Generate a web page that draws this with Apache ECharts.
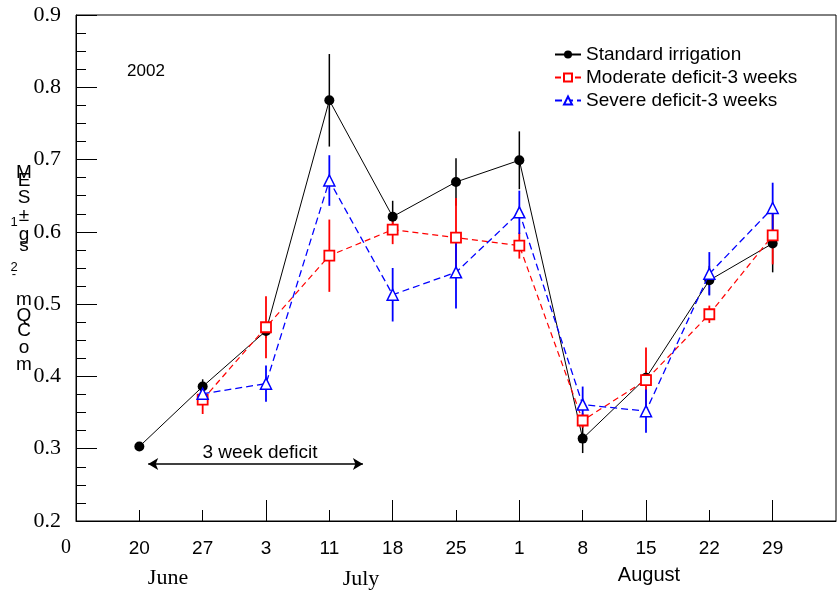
<!DOCTYPE html>
<html><head><meta charset="utf-8">
<script src="https://cdn.jsdelivr.net/npm/echarts@6/dist/echarts.min.js"></script>
<style>html,body{margin:0;padding:0;background:#fff}#c{width:840px;height:596px}</style>
</head><body><div id="c"></div>
<script>
const tickLabels = ['20','27','3','11','18','25','1','8','15','22','29'];
const xPos = [1,2,3,4,5,6,7,8,9,10,11];
const longTicks = [3,5,7,9,11];
const shortTicks = [1,2,4,6,8,10];
const standard    = [0.303,0.386,0.463,0.782,0.621,0.669,0.699,0.314,0.398,0.533,0.584];
const standardErr = [0.004,0.010,0.010,0.064,0.022,0.033,0.040,0.020,0.010,0.020,0.040];
const moderate    = [null,0.368,0.468,0.567,0.603,0.592,0.581,0.339,0.395,0.486,0.595];
const moderateErr = [null,0.020,0.043,0.050,0.020,0.055,0.018,0.010,0.045,0.012,0.040];
const severe      = [null,0.376,0.390,0.671,0.513,0.544,0.627,0.361,0.352,0.542,0.633];
const severeErr   = [null,0.010,0.025,0.035,0.037,0.050,0.030,0.025,0.030,0.030,0.035];
const yTitleChars = [['M',173],['E',181],['S',198],['±',216],['g',235],['s',246],['m',300],['Q',316],['C',331],['o',348],['m',365]];
const yTitleSups = [['1',222],['2',267],['-',274]];

const SANS = '"Liberation Sans"';
function pts(v){ const o=[]; v.forEach((y,i)=>{ if(y!==null) o.push([xPos[i],y]); }); return o; }
function errs(v,e){ const o=[]; v.forEach((y,i)=>{ if(y!==null) o.push([xPos[i],y-e[i],y+e[i]]); }); return o; }
function errSeries(v,e,color,w){
  return {type:'custom', silent:true, z:1, data:errs(v,e), encode:{x:0,y:[1,2]},
    renderItem:(p,api)=>{ const a=api.coord([api.value(0),api.value(1)]); const b=api.coord([api.value(0),api.value(2)]);
      return {type:'line', shape:{x1:a[0],y1:a[1],x2:b[0],y2:b[1]}, style:{stroke:color,lineWidth:w}}; }};
}
const chart = echarts.init(document.getElementById('c'));
const graphics = [];
yTitleChars.forEach(([ch,y])=>graphics.push({type:'text', x:24, y:y, style:{text:ch, font:'19px ' + SANS, fill:'#000', align:'center', verticalAlign:'middle'}}));
yTitleSups.forEach(([ch,y])=>graphics.push({type:'text', x:14, y:y, style:{text:ch, font:'13px ' + SANS, fill:'#000', align:'center', verticalAlign:'middle'}}));
graphics.push({type:'text', x:66, y:548, style:{text:'0', font:'20px "Liberation Serif"', fill:'#000', align:'center', verticalAlign:'middle'}});
graphics.push({type:'text', x:168, y:578, style:{text:'June', font:'22px "Liberation Serif"', fill:'#000', align:'center', verticalAlign:'middle'}});
graphics.push({type:'text', x:361, y:579, style:{text:'July', font:'22px "Liberation Serif"', fill:'#000', align:'center', verticalAlign:'middle'}});
graphics.push({type:'text', x:649, y:575, style:{text:'August', font:'20px ' + SANS, fill:'#000', align:'center', verticalAlign:'middle'}});
graphics.push({type:'text', x:146, y:71, style:{text:'2002', font:'17px ' + SANS, fill:'#000', align:'center', verticalAlign:'middle'}});
graphics.push({type:'text', x:260, y:453, style:{text:'3 week deficit', font:'19px ' + SANS, fill:'#000', align:'center', verticalAlign:'middle'}});

chart.setOption({
  animation:false,
  backgroundColor:'#fff',
  grid:{left:76, right:4, top:15, bottom:75, show:true, borderColor:'#000', borderWidth:1},
  legend:{orient:'vertical', left:549, top:40, itemWidth:26, itemHeight:10, itemGap:4,
    textStyle:{fontSize:19, fontFamily:'Liberation Sans', color:'#000'},
    data:['Standard irrigation','Moderate deficit-3 weeks','Severe deficit-3 weeks']},
  xAxis:[
    {type:'value', min:0, max:12, position:'bottom',
     axisLine:{show:true, lineStyle:{color:'#000'}}, splitLine:{show:false},
     axisTick:{show:true, inside:true, length:21, customValues:longTicks, lineStyle:{color:'#000'}},
     axisLabel:{show:true, customValues:xPos, margin:18, fontSize:19, fontFamily:'Liberation Sans', color:'#000',
       formatter:(v)=>{ const i=xPos.indexOf(Math.round(v)); return i>=0?tickLabels[i]:''; }}},
    {type:'value', min:0, max:12, position:'bottom', offset:0,
     axisLine:{show:false}, splitLine:{show:false},
     axisTick:{show:true, inside:true, length:11, customValues:shortTicks, lineStyle:{color:'#000'}},
     axisLabel:{show:false}}
  ],
  yAxis:{type:'value', min:0.2, max:0.9, interval:0.1,
    axisLine:{show:true, lineStyle:{color:'#000'}}, splitLine:{show:false},
    axisTick:{show:true, inside:true, length:21, lineStyle:{color:'#000'}},
    minorTick:{show:true, splitNumber:4, length:10, lineStyle:{color:'#000'}},
    axisLabel:{margin:15, fontSize:22, fontFamily:'Liberation Serif', color:'#000', formatter:(v)=>v.toFixed(1)}},
  graphic:graphics,
  series:[
    errSeries(standard,standardErr,'#000',1.5),
    errSeries(moderate,moderateErr,'#ff0000',1.8),
    errSeries(severe,severeErr,'#0000ff',1.8),
    {name:'Standard irrigation', type:'line', data:pts(standard), z:3,
     symbol:'circle', symbolSize:10, itemStyle:{color:'#000'}, lineStyle:{color:'#000', width:1},
     markLine:{silent:true, symbol:['arrow','arrow'], symbolSize:[9,10], label:{show:false},
       lineStyle:{color:'#000', width:1.5, type:'solid'},
       data:[[{coord:[1.14,0.279]},{coord:[4.53,0.279]}]]}},
    {name:'Moderate deficit-3 weeks', type:'line', data:pts(moderate), z:4,
     symbol:'rect', symbolSize:10, itemStyle:{color:'#fff', borderColor:'#ff0000', borderWidth:1.8},
     lineStyle:{color:'#ff0000', width:1.2, type:[6,4]}},
    {name:'Severe deficit-3 weeks', type:'line', data:pts(severe), z:5,
     symbol:'triangle', symbolSize:11, itemStyle:{color:'#fff', borderColor:'#0000ff', borderWidth:1.5},
     lineStyle:{color:'#0000ff', width:1.3, type:[7,4]}}
  ]
});
</script></body></html>
